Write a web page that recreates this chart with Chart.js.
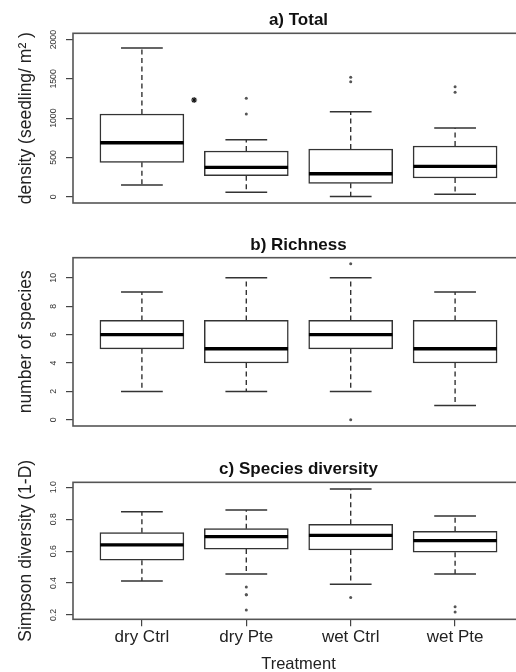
<!DOCTYPE html>
<html>
<head>
<meta charset="utf-8">
<script src="https://cdn.jsdelivr.net/npm/chart.js@4.4.1/dist/chart.umd.min.js"></script>
<style>
  html, body { margin: 0; padding: 0; background: #fff; overflow: hidden; width: 516px; height: 672px; }
  canvas { position: absolute; left: 0; }
</style>
</head>
<body>
<canvas id="totalChart" width="530" height="215" style="top:0px"></canvas>
<canvas id="richChart" width="530" height="215" style="top:215px"></canvas>
<canvas id="divChart" width="530" height="250" style="top:430px"></canvas>
<script>
// treatments on the x axis
const treatments = ['dry Ctrl', 'dry Pte', 'wet Ctrl', 'wet Pte'];

// a) Total - density (seedling/m2)
const totalMin = [149, 56, 4, 30];
const totalQ1 = [438, 268, 170, 238];
const totalMed = [688, 374, 293, 387];
const totalQ3 = [1053, 582, 608, 646];
const totalMax = [1895, 726, 1083, 875];
const totalOut = [[], [1253, 1053], [1521, 1465], [1401, 1330]];
const totalSigX = [1.5];   // significance asterisk
const totalSigY = [1232];
const totalTicks = [0, 500, 1000, 1500, 2000];

// b) Richness - number of species
const richMin = [2, 2, 2, 1];
const richQ1 = [5, 4, 5, 4];
const richMed = [6, 5, 6, 5];
const richQ3 = [7, 7, 7, 7];
const richMax = [9, 10, 10, 9];
const richOut = [[], [], [11, 0], []];
const richTicks = [0, 2, 4, 6, 8, 10];

// c) Species diversity - Simpson (1-D)
const divMin = [0.413, 0.457, 0.392, 0.457];
const divQ1 = [0.543, 0.613, 0.607, 0.593];
const divMed = [0.639, 0.691, 0.699, 0.666];
const divQ3 = [0.716, 0.741, 0.768, 0.724];
const divMax = [0.847, 0.858, 0.990, 0.820];
const divOut = [[], [0.375, 0.327, 0.327, 0.231], [0.309], [0.252, 0.219]];
const divTicks = [0.2, 0.4, 0.6, 0.8, 1.0];

Chart.defaults.font.family = '"Liberation Sans", Arial, Helvetica, sans-serif';
Chart.defaults.color = '#222';

// frame around the plot region, like R's box()
const framePlugin = {
    id: 'frame',
    afterDatasetsDraw(chart) {
        const { ctx, chartArea: a } = chart;
        ctx.save();
        ctx.strokeStyle = '#555';
        ctx.lineWidth = 1.6;
        ctx.strokeRect(a.left, a.top, a.right - a.left, a.bottom - a.top);
        ctx.restore();
    }
};

// dashed whiskers: q3 -> max and q1 -> min, gaps between them
function whiskers(lo, q1, q3, hi) {
    const pts = [];
    q1.forEach((v, i) => {
        const x = i + 1;
        pts.push({ x, y: q3[i] }, { x, y: hi[i] }, { x, y: null });
        pts.push({ x, y: v }, { x, y: lo[i] }, { x, y: null });
    });
    return pts;
}

// short horizontal segments centred on each group
function hLines(vals, half) {
    const pts = [];
    vals.forEach((v, i) => {
        pts.push({ x: i + 1 - half, y: v }, { x: i + 1 + half, y: v }, { x: i + 1, y: null });
    });
    return pts;
}

function boxDatasets(lo, q1, med, q3, hi, out) {
    return [
        {
            type: 'bar',
            data: q1.map((v, i) => ({ x: i + 1, y: [v, q3[i]] })),
            backgroundColor: '#fff',
            borderColor: '#333',
            borderWidth: 1.5,
            borderSkipped: false,
            barThickness: 84,
            order: 5
        },
        {
            type: 'line',
            data: whiskers(lo, q1, q3, hi),
            borderColor: '#333',
            borderWidth: 1.4,
            borderDash: [5, 3.5],
            pointRadius: 0,
            order: 3
        },
        {
            type: 'line',
            data: hLines(hi, 0.2).concat(hLines(lo, 0.2)),
            borderColor: '#333',
            borderWidth: 1.5,
            pointRadius: 0,
            order: 2
        },
        {
            type: 'line',
            data: hLines(med, 0.4),
            borderColor: '#000',
            borderWidth: 3.4,
            pointRadius: 0,
            order: 1
        },
        {
            type: 'scatter',
            data: out.flatMap((arr, i) => arr.map(y => ({ x: i + 1, y }))),
            pointRadius: 1.5,
            pointBackgroundColor: '#555',
            pointBorderWidth: 0,
            order: 0
        }
    ];
}

function makePanel(id, p) {
    const ctx = document.getElementById(id).getContext('2d');
    const xAxis = {
        type: 'linear',
        min: 0.34,
        max: 4.66,
        offset: false,
        display: p.showX,
        border: { display: false },
        grid: { offset: false, drawOnChartArea: false, drawTicks: true, tickLength: 7, color: '#444', lineWidth: 1.2 },
        afterBuildTicks: s => { s.ticks = treatments.map((t, i) => ({ value: i + 1 })); },
        ticks: {
            autoSkip: false,
            maxRotation: 0,
            padding: 0.9,
            color: '#222',
            font: { size: 17 },
            callback: v => treatments[v - 1]
        },
        title: { display: p.showX, text: 'Treatment', color: '#222', font: { size: 16.5 }, padding: { top: 0, bottom: 5.8 } },
        afterFit: s => {
            if (p.showX) s.height = p.xHeight;
            s.paddingLeft = 0;
            s.paddingRight = 0;
        }
    };
    new Chart(ctx, {
        type: 'bar',
        data: { datasets: boxDatasets(p.lo, p.q1, p.med, p.q3, p.hi, p.out).concat(p.extra || []) },
        options: {
            responsive: false,
            animation: false,
            events: [],
            layout: { padding: { left: 0, right: 6, top: 0, bottom: p.bottomPad } },
            plugins: {
                legend: { display: false },
                tooltip: { enabled: false },
                title: {
                    display: true,
                    fullSize: false,
                    text: p.title,
                    color: '#111',
                    font: { size: 17, weight: 'bold' },
                    padding: { top: p.titleTop, bottom: p.titleBottom }
                }
            },
            scales: {
                x: xAxis,
                y: {
                    min: p.yMin,
                    max: p.yMax,
                    border: { display: false },
                    grid: { drawOnChartArea: false, drawTicks: true, tickLength: 7, color: '#444', lineWidth: 1.2 },
                    afterBuildTicks: s => { s.ticks = p.ticks.map(v => ({ value: v })); },
                    ticks: {
                        autoSkip: false,
                        minRotation: 90,
                        maxRotation: 90,
                        crossAlign: 'center',
                        padding: p.tickPad,
                        color: '#333',
                        font: { size: 8.7 },
                        callback: p.fmt
                    },
                    title: { display: true, text: p.yLabel, color: '#222', font: { size: 17.5 }, padding: { top: 16.1, bottom: 0 } },
                    afterFit: s => {
                        s.width = 73;
                        s.paddingTop = 0;
                        s.paddingBottom = 0;
                    }
                }
            }
        },
        plugins: [framePlugin]
    });
}

makePanel('totalChart', {
    title: 'a) Total', titleTop: 10.5, titleBottom: 2.4, bottomPad: 12,
    yLabel: 'density (seedling/ m² )', yMin: -80, yMax: 2081, ticks: totalTicks,
    fmt: v => String(v), tickPad: 3.0, showX: false,
    lo: totalMin, q1: totalQ1, med: totalMed, q3: totalQ3, hi: totalMax, out: totalOut,
    extra: [{
        type: 'scatter',
        data: totalSigX.map((x, i) => ({ x, y: totalSigY[i] })),
        pointStyle: 'star',
        pointRadius: 3,
        pointBorderColor: '#111',
        pointBorderWidth: 1.1,
        order: 0
    }]
});

makePanel('richChart', {
    title: 'b) Richness', titleTop: 19.9, titleBottom: 2.4, bottomPad: 3,
    yLabel: 'number of species', yMin: -0.44, yMax: 11.42, ticks: richTicks,
    fmt: v => String(v), tickPad: 7.86, showX: false,
    lo: richMin, q1: richQ1, med: richMed, q3: richQ3, hi: richMax, out: richOut
});

makePanel('divChart', {
    title: 'c) Species diversity', titleTop: 29.6, titleBottom: 2.33, bottomPad: 0,
    yLabel: 'Simpson diversity (1-D)', yMin: 0.173, yMax: 1.031, ticks: divTicks,
    fmt: v => v.toFixed(1), tickPad: 6.65, showX: true, xHeight: 60.67,
    lo: divMin, q1: divQ1, med: divMed, q3: divQ3, hi: divMax, out: divOut
});
</script>
</body>
</html>
